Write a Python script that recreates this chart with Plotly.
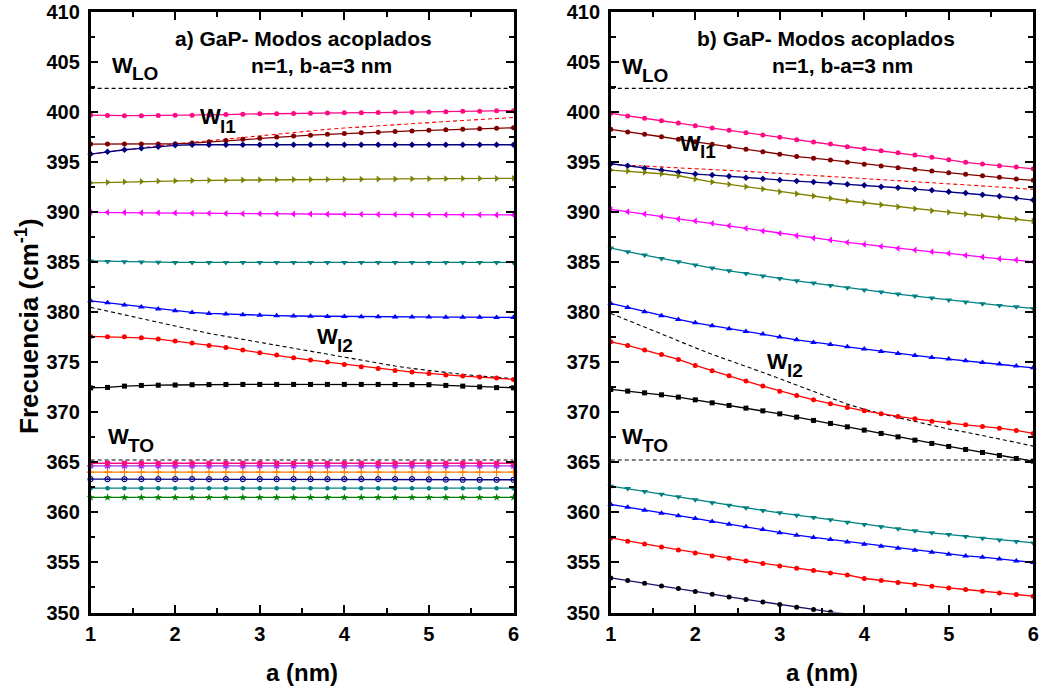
import plotly.graph_objects as go

# Well thickness a (nm)
a_nm = [1.0, 1.2, 1.4, 1.6, 1.8, 2.0, 2.2, 2.4, 2.6, 2.8, 3.0, 3.2, 3.4,
        3.6, 3.8, 4.0, 4.2, 4.4, 4.6, 4.8, 5.0, 5.2, 5.4, 5.6, 5.8, 6.0]

# Bulk reference frequencies (cm^-1)
w_LO = 402.4
w_TO = 365.25

# ---- panel a) coupled modes ----
left_pink = [399.73, 399.68, 399.67, 399.67, 399.68, 399.70, 399.72, 399.74, 399.78, 399.82, 399.85, 399.87, 399.89,
             399.91, 399.93, 399.95, 399.97, 399.98, 400.00, 400.02, 400.04, 400.07, 400.10, 400.12, 400.15, 400.17]
left_darkred = [396.83, 396.83, 396.83, 396.83, 396.84, 396.86, 396.93, 397.05, 397.18, 397.30, 397.42, 397.53, 397.63,
                397.72, 397.80, 397.88, 397.95, 398.02, 398.08, 398.14, 398.20, 398.25, 398.30, 398.35, 398.40, 398.45]
left_wl1 = [395.83, 396.05, 396.25, 396.45, 396.65, 396.83, 397.00, 397.17, 397.35, 397.52, 397.68, 397.84, 398.00,
            398.15, 398.30, 398.43, 398.55, 398.67, 398.78, 398.88, 398.98, 399.08, 399.18, 399.28, 399.38, 399.48]
left_navy = [395.83, 396.06, 396.26, 396.40, 396.56, 396.70, 396.76, 396.76, 396.76, 396.76, 396.76, 396.76, 396.76,
             396.76, 396.76, 396.76, 396.76, 396.76, 396.76, 396.76, 396.76, 396.76, 396.76, 396.76, 396.76, 396.76]
left_olive = [392.95, 393.00, 393.05, 393.08, 393.12, 393.15, 393.18, 393.20, 393.22, 393.24, 393.26, 393.27, 393.28,
              393.29, 393.30, 393.31, 393.32, 393.33, 393.34, 393.35, 393.36, 393.37, 393.38, 393.38, 393.39, 393.40]
left_magenta = [390.00, 390.00, 389.98, 389.96, 389.95, 389.93, 389.92, 389.90, 389.89, 389.87, 389.86, 389.85, 389.84,
                389.83, 389.82, 389.81, 389.80, 389.79, 389.78, 389.77, 389.77, 389.76, 389.75, 389.75, 389.74, 389.74]
left_teal = [385.15, 385.10, 385.07, 385.04, 385.02, 385.00, 385.00, 385.00, 385.00, 385.00, 385.00, 385.00, 385.00,
             385.00, 385.00, 385.00, 385.00, 385.00, 385.00, 385.00, 385.00, 385.00, 385.00, 385.00, 385.00, 385.00]
left_blue = [381.16, 380.96, 380.73, 380.53, 380.33, 380.16, 380.00, 379.90, 379.83, 379.76, 379.71, 379.67, 379.64,
             379.62, 379.60, 379.58, 379.57, 379.56, 379.55, 379.54, 379.53, 379.52, 379.52, 379.51, 379.50, 379.50]
left_wl2 = [380.50, 380.12, 379.74, 379.37, 379.00, 378.62, 378.24, 377.90, 377.60, 377.30, 377.00, 376.70, 376.40,
            376.10, 375.80, 375.50, 375.20, 374.92, 374.64, 374.40, 374.18, 373.98, 373.80, 373.64, 373.50, 373.38]
left_red = [377.60, 377.56, 377.56, 377.46, 377.33, 377.13, 376.93, 376.70, 376.50, 376.23, 375.96, 375.73, 375.46,
            375.23, 375.03, 374.80, 374.56, 374.40, 374.20, 374.03, 373.90, 373.73, 373.63, 373.53, 373.43, 373.30]
left_black = [372.45, 372.50, 372.63, 372.70, 372.72, 372.74, 372.77, 372.78, 372.79, 372.80, 372.80, 372.80, 372.80,
              372.80, 372.80, 372.80, 372.80, 372.80, 372.79, 372.78, 372.77, 372.70, 372.63, 372.55, 372.48, 372.46]
# modes just below w_TO
left_pink_sq = [364.92, 364.92, 364.92, 364.92, 364.92, 364.92, 364.92, 364.92, 364.92, 364.92, 364.92, 364.92, 364.92,
                364.92, 364.92, 364.92, 364.92, 364.92, 364.92, 364.92, 364.92, 364.92, 364.92, 364.92, 364.92, 364.92]
left_purple = [364.66, 364.66, 364.66, 364.66, 364.66, 364.66, 364.66, 364.66, 364.66, 364.66, 364.66, 364.66, 364.66,
               364.66, 364.66, 364.66, 364.66, 364.66, 364.66, 364.66, 364.66, 364.66, 364.66, 364.66, 364.66, 364.66]
left_orange = [364.03, 364.03, 364.03, 364.03, 364.03, 364.03, 364.03, 364.03, 364.03, 364.03, 364.03, 364.03, 364.03,
               364.03, 364.03, 364.03, 364.03, 364.03, 364.03, 364.03, 364.03, 364.03, 364.03, 364.03, 364.03, 364.03]
left_navy_open = [363.33, 363.33, 363.33, 363.33, 363.33, 363.33, 363.33, 363.33, 363.33, 363.33, 363.33, 363.33, 363.33,
                  363.33, 363.33, 363.33, 363.33, 363.33, 363.33, 363.33, 363.30, 363.28, 363.27, 363.27, 363.27, 363.27]
left_teal_low = [362.43, 362.43, 362.43, 362.43, 362.43, 362.43, 362.43, 362.43, 362.43, 362.43, 362.43, 362.43, 362.43,
                 362.43, 362.43, 362.43, 362.43, 362.43, 362.43, 362.43, 362.43, 362.43, 362.43, 362.43, 362.43, 362.43]
left_green = [361.50, 361.50, 361.50, 361.50, 361.50, 361.50, 361.50, 361.50, 361.50, 361.50, 361.50, 361.50, 361.50,
              361.50, 361.50, 361.50, 361.50, 361.50, 361.50, 361.50, 361.50, 361.50, 361.50, 361.50, 361.50, 361.50]

# ---- panel b) coupled modes ----
right_pink = [399.90, 399.63, 399.40, 399.16, 398.93, 398.66, 398.43, 398.20, 397.96, 397.73, 397.50, 397.26, 397.03,
              396.83, 396.56, 396.36, 396.16, 395.96, 395.73, 395.50, 395.25, 395.00, 394.83, 394.66, 394.53, 394.35]
right_darkred = [398.30, 398.03, 397.80, 397.56, 397.30, 397.06, 396.80, 396.55, 396.30, 396.05, 395.80, 395.58, 395.42,
                 395.23, 395.00, 394.80, 394.63, 394.46, 394.30, 394.13, 393.96, 393.80, 393.66, 393.50, 393.33, 393.20]
right_wl1 = [394.80, 394.72, 394.64, 394.56, 394.48, 394.40, 394.30, 394.20, 394.10, 394.00, 393.90, 393.80, 393.70,
             393.60, 393.50, 393.40, 393.30, 393.20, 393.10, 393.00, 392.90, 392.78, 392.66, 392.54, 392.42, 392.30]
right_navy = [394.86, 394.66, 394.40, 394.20, 394.00, 393.83, 393.73, 393.60, 393.46, 393.36, 393.23, 393.13, 393.03,
              392.93, 392.80, 392.70, 392.56, 392.46, 392.33, 392.20, 392.06, 391.93, 391.76, 391.60, 391.43, 391.23]
right_olive = [394.23, 394.13, 394.00, 393.86, 393.66, 393.33, 393.03, 392.80, 392.56, 392.33, 392.06, 391.86, 391.63,
               391.40, 391.16, 390.96, 390.76, 390.56, 390.36, 390.16, 390.00, 389.83, 389.66, 389.50, 389.33, 389.13]
right_magenta = [390.30, 390.06, 389.83, 389.56, 389.33, 389.13, 388.90, 388.66, 388.40, 388.13, 387.90, 387.66, 387.43,
                 387.23, 387.00, 386.80, 386.60, 386.40, 386.23, 386.06, 385.90, 385.70, 385.53, 385.36, 385.23, 385.06]
right_teal = [386.43, 386.06, 385.73, 385.40, 385.06, 384.73, 384.43, 384.16, 383.90, 383.63, 383.40, 383.16, 382.93,
              382.70, 382.46, 382.23, 382.03, 381.83, 381.63, 381.43, 381.23, 381.03, 380.86, 380.70, 380.56, 380.40]
right_blue = [380.90, 380.50, 380.06, 379.66, 379.30, 378.96, 378.66, 378.36, 378.10, 377.83, 377.53, 377.26, 377.00,
              376.80, 376.56, 376.33, 376.10, 375.90, 375.70, 375.50, 375.33, 375.16, 375.00, 374.83, 374.63, 374.46]
right_wl2 = [379.90, 379.20, 378.50, 377.83, 377.17, 376.47, 375.80, 375.22, 374.64, 374.00, 373.37, 372.74, 372.10,
             371.46, 370.83, 370.33, 369.86, 369.48, 369.10, 368.71, 368.34, 368.03, 367.71, 367.37, 367.00, 366.63]
right_red = [377.06, 376.70, 376.23, 375.80, 375.30, 374.70, 374.16, 373.66, 373.13, 372.63, 372.13, 371.70, 371.26,
             370.86, 370.50, 370.16, 369.86, 369.60, 369.36, 369.13, 368.96, 368.76, 368.60, 368.43, 368.20, 367.90]
right_black = [372.30, 372.13, 371.96, 371.76, 371.53, 371.26, 370.96, 370.70, 370.43, 370.16, 369.86, 369.53, 369.20,
               368.90, 368.56, 368.23, 367.90, 367.56, 367.23, 366.90, 366.60, 366.30, 366.00, 365.70, 365.40, 365.13]
right_teal_low = [362.63, 362.40, 362.10, 361.83, 361.56, 361.26, 360.96, 360.73, 360.46, 360.20, 359.96, 359.73, 359.50,
                  359.26, 359.03, 358.80, 358.56, 358.36, 358.16, 357.96, 357.80, 357.60, 357.43, 357.26, 357.10, 356.96]
right_blue_low = [360.80, 360.53, 360.23, 359.93, 359.66, 359.40, 359.10, 358.83, 358.56, 358.30, 357.96, 357.73, 357.50,
                  357.30, 357.06, 356.83, 356.63, 356.43, 356.23, 356.03, 355.83, 355.66, 355.53, 355.36, 355.16, 355.00]
right_red_low = [357.46, 357.13, 356.86, 356.56, 356.26, 355.96, 355.66, 355.43, 355.16, 354.90, 354.66, 354.43, 354.20,
                 353.96, 353.76, 353.40, 353.20, 353.00, 352.80, 352.63, 352.46, 352.30, 352.13, 351.96, 351.80, 351.63]
a_nm_short = [1.0, 1.2, 1.4, 1.6, 1.8, 2.0, 2.2, 2.4, 2.6, 2.8, 3.0, 3.2, 3.4, 3.6, 3.8]
right_black_low = [353.46, 353.20, 352.93, 352.66, 352.40, 352.10, 351.83, 351.56, 351.30, 351.06, 350.80, 350.53,
                   350.30, 350.06, 349.84]

PINK = "#FF0A84"
DARKRED = "#800000"
NAVY = "#000080"
OLIVE = "#808000"
MAGENTA = "#FF00FF"
TEAL = "#008080"
BLUE = "#0000FF"
RED = "#FF0000"
BLACK = "#000000"
PURPLE = "#A030F0"
ORANGE = "#FF8000"
GREEN = "#008000"

FONT = "Liberation Sans, Arial, sans-serif"

fig = go.Figure()


def mode(x, y, color, symbol, ax, size=5, line_color=None, open_marker=False, clip=False):
    marker = dict(symbol=symbol, size=size, color=color)
    if open_marker:
        marker["line"] = dict(color=color, width=1.2)
    fig.add_trace(go.Scatter(
        x=x, y=y, mode="lines+markers", xaxis=ax[0], yaxis=ax[1],
        line=dict(color=line_color or color, width=1.3),
        marker=marker, cliponaxis=clip, showlegend=False, hoverinfo="x+y"))


def dashed(x, y, color, ax):
    fig.add_trace(go.Scatter(
        x=x, y=y, mode="lines", xaxis=ax[0], yaxis=ax[1],
        line=dict(color=color, width=1.1, dash="4px,3px"),
        showlegend=False, hoverinfo="x+y"))


A = ("x", "y")
B = ("x2", "y2")

for ax in (A, B):
    dashed([a_nm[0], a_nm[-1]], [w_LO, w_LO], BLACK, ax)
    dashed([a_nm[0], a_nm[-1]], [w_TO, w_TO], BLACK, ax)

# panel a
dashed(a_nm, left_wl1, RED, A)
dashed(a_nm, left_wl2, BLACK, A)
mode(a_nm, left_pink, PINK, "circle", A)
mode(a_nm, left_darkred, DARKRED, "circle", A)
mode(a_nm, left_navy, NAVY, "diamond", A)
mode(a_nm, left_olive, OLIVE, "triangle-right", A, size=6)
mode(a_nm, left_magenta, MAGENTA, "triangle-left", A, size=6)
mode(a_nm, left_teal, TEAL, "triangle-down", A, size=6)
mode(a_nm, left_blue, BLUE, "triangle-up", A, size=6)
mode(a_nm, left_red, RED, "circle", A)
mode(a_nm, left_black, BLACK, "square", A)
mode(a_nm, left_green, GREEN, "star", A, size=6)
mode(a_nm, left_teal_low, TEAL, "hexagon", A, size=5)
mode(a_nm, left_navy_open, NAVY, "circle-open-dot", A, size=5, open_marker=True)
mode(a_nm, left_orange, ORANGE, "cross-thin-open", A, size=6, open_marker=True)
mode(a_nm, left_purple, PURPLE, "asterisk-open", A, size=6, open_marker=True)
mode(a_nm, left_pink_sq, PINK, "square", A)

# panel b
dashed(a_nm, right_wl1, RED, B)
dashed(a_nm, right_wl2, BLACK, B)
mode(a_nm, right_pink, PINK, "circle", B)
mode(a_nm, right_darkred, DARKRED, "circle", B)
mode(a_nm, right_navy, NAVY, "diamond", B)
mode(a_nm, right_olive, OLIVE, "triangle-right", B, size=6)
mode(a_nm, right_magenta, MAGENTA, "triangle-left", B, size=6)
mode(a_nm, right_teal, TEAL, "triangle-down", B, size=6)
mode(a_nm, right_blue, BLUE, "triangle-up", B, size=6)
mode(a_nm, right_red, RED, "circle", B)
mode(a_nm, right_black, BLACK, "square", B)
mode(a_nm, right_teal_low, TEAL, "triangle-down", B, size=6)
mode(a_nm, right_blue_low, BLUE, "triangle-up", B, size=6)
mode(a_nm, right_red_low, RED, "circle", B)
mode(a_nm_short, right_black_low, BLACK, "circle", B, line_color="#14146E", clip=True)

W, H = 1041, 691
tickfont = dict(family=FONT, size=20, color="black", weight="bold")
common = dict(showline=True, linewidth=2.5, linecolor="black", mirror="ticks",
              ticks="inside", ticklen=8, tickwidth=2, tickcolor="black",
              showgrid=False, zeroline=False, tickfont=tickfont, automargin=False)
xcommon = dict(common, range=[1, 6], tick0=1, dtick=1, ticklabelstandoff=2,
               minor=dict(dtick=0.5, ticks="inside", ticklen=5, tickwidth=2, tickcolor="black"))
ycommon = dict(common, range=[350, 410], tick0=350, dtick=5, ticklabelstandoff=4,
               minor=dict(dtick=2.5, ticks="inside", ticklen=5, tickwidth=2, tickcolor="black"))

ydom = [1 - 612.5 / H, 1 - 12.3 / H]
fig.update_layout(
    template="none",
    width=W, height=H,
    margin=dict(l=0, r=0, t=0, b=0),
    paper_bgcolor="white", plot_bgcolor="white",
    xaxis=dict(xcommon, domain=[90.6 / W, 513.5 / W], anchor="y"),
    yaxis=dict(ycommon, domain=ydom, anchor="x"),
    xaxis2=dict(xcommon, domain=[610.8 / W, 1033.2 / W], anchor="y2"),
    yaxis2=dict(ycommon, domain=ydom, anchor="x2"),
)


def text(px, py, s, size, xanchor="center", yanchor="middle", angle=0):
    fig.add_annotation(x=px / W, y=1 - py / H, xref="paper", yref="paper",
                       text=s, showarrow=False, xanchor=xanchor, yanchor=yanchor,
                       textangle=angle,
                       font=dict(family=FONT, size=size, color="black", weight="bold"))


def wlabel(px, py, sub):
    text(px, py, "W", 22, xanchor="left")
    text(px + 20, py + 9, sub, 19, xanchor="left")


# panel titles
text(303, 38, "a) GaP- Modos acoplados", 21)
text(321, 65, "n=1, b-a=3 nm", 21)
text(826, 38, "b) GaP- Modos acoplados", 21)
text(842, 65, "n=1, b-a=3 nm", 21)

# mode labels
wlabel(110, 65, "LO")
wlabel(198, 117, "l1")
wlabel(315, 336, "l2")
wlabel(106, 436, "TO")
wlabel(620, 66, "LO")
wlabel(678, 143, "l1")
wlabel(765, 361, "l2")
wlabel(620, 436, "TO")

# axis titles
text(27, 326, "Frecuencia (cm<sup>-1</sup>)", 26, angle=-90)
text(302, 672, "a (nm)", 24)
text(822, 672, "a (nm)", 24)

fig.write_html("out.html")
